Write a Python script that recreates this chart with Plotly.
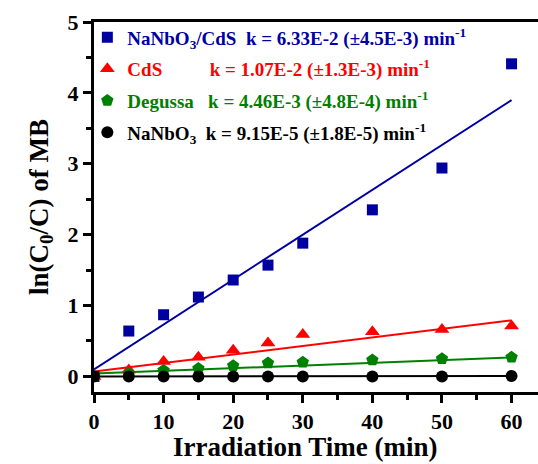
import plotly.graph_objects as go

# ---- data ----
time_min = [0, 5, 10, 15, 20, 25, 30, 40, 50, 60]
nanbo3_cds = [0.0, 0.64, 0.87, 1.12, 1.36, 1.57, 1.88, 2.35, 2.94, 4.41]
cds = [0.0, 0.09, 0.21, 0.27, 0.37, 0.47, 0.59, 0.63, 0.66, 0.71]
degussa = [0.0, 0.04, 0.085, 0.11, 0.15, 0.19, 0.20, 0.23, 0.25, 0.27]
nanbo3 = [0.0, 0.0, 0.0, 0.0, 0.0, 0.0, 0.0, 0.0, 0.0, 0.005]

# linear fits (slope, intercept) as drawn
fit_slopes = [0.0633, 0.0120, 0.0038, 0.0000915]
fit_intercepts = [0.10, 0.07, 0.04, 0.0]
fit_x = [0, 60]

series_names = [
    "NaNbO<sub>3</sub>/CdS\u00a0\u00a0k = 6.33E-2 (±4.5E-3) min<sup>-1</sup>",
    "CdS\u00a0\u00a0\u00a0\u00a0\u00a0\u00a0\u00a0\u00a0\u00a0\u00a0k = 1.07E-2 (±1.3E-3) min<sup>-1</sup>",
    "Degussa\u00a0\u00a0\u00a0k = 4.46E-3 (±4.8E-4) min<sup>-1</sup>",
    "NaNbO<sub>3</sub>\u00a0\u00a0k = 9.15E-5 (±1.8E-5) min<sup>-1</sup>",
]
colors = ["#0000A0", "#FF0000", "#008000", "#000000"]
symbols = ["square", "triangle-up", "pentagon", "circle"]
sizes = [11, 13, 13, 12]
values = [nanbo3_cds, cds, degussa, nanbo3]

FONT = "Liberation Serif"

fig = go.Figure()
for i in range(4):
    fig.add_trace(go.Scatter(
        x=fit_x,
        y=[fit_intercepts[i] + fit_slopes[i] * xv for xv in fit_x],
        mode="lines", line=dict(color=colors[i], width=2),
        showlegend=False, hoverinfo="skip"))
for i in range(4):
    fig.add_trace(go.Scatter(
        x=time_min, y=values[i], mode="markers",
        marker=dict(symbol=symbols[i], size=sizes[i], color=colors[i]),
        legendgroup=f"g{i}",
        name=f"<span style='color:{colors[i]}'><b>{series_names[i]}</b></span>"))

tickfont = dict(family=FONT, size=22, weight="bold", color="black")
fig.update_layout(
    width=538, height=464,
    margin=dict(l=94, r=0, t=22, b=72),
    paper_bgcolor="white", plot_bgcolor="white",
    font=dict(family=FONT, color="black", weight="bold"),
    showlegend=True,
    legend=dict(x=-0.015, y=1.01, xanchor="left", yanchor="top",
                bgcolor="rgba(0,0,0,0)",
                font=dict(family=FONT, size=19, weight="bold"),
                tracegroupgap=4, itemwidth=30),
    xaxis=dict(range=[0, 63.8], tickvals=[0, 10, 20, 30, 40, 50, 60],
               showline=True, linecolor="black", linewidth=3, mirror=True,
               ticks="outside", ticklen=8, tickwidth=2.5, tickcolor="black",
               minor=dict(dtick=5, tick0=0, ticks="outside", ticklen=5, tickwidth=2.5, tickcolor="black"),
               showgrid=False, zeroline=False,
               tickfont=tickfont),
    yaxis=dict(range=[-0.22, 5], tickvals=[0, 1, 2, 3, 4, 5],
               showline=True, linecolor="black", linewidth=3, mirror=False,
               ticks="outside", ticklen=8, tickwidth=2.5, tickcolor="black",
               minor=dict(dtick=0.5, tick0=0, ticks="outside", ticklen=5, tickwidth=2.5, tickcolor="black"),
               showgrid=False, zeroline=False,
               tickfont=tickfont,
               title=dict(text="<b>ln(C<sub>0</sub>/C) of MB</b>",
                          font=dict(family=FONT, size=27, weight="bold"), standoff=12)),
    annotations=[dict(text="<b>Irradiation Time (min)</b>", xref="paper", yref="paper",
                      x=0.477, y=0, xanchor="center", yanchor="middle", yshift=-55,
                      showarrow=False, font=dict(family=FONT, size=27, weight="bold", color="black"))],
)

fig.write_html("out.html")
